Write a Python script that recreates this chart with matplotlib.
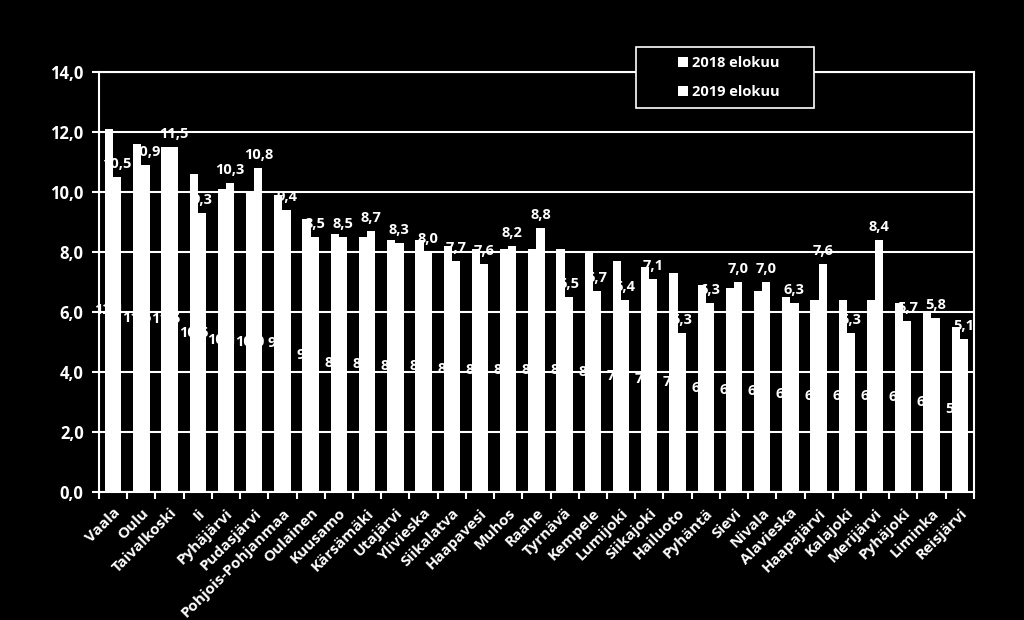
import matplotlib
matplotlib.use('Agg')
import matplotlib.pyplot as plt
import numpy as np
from matplotlib.patches import Rectangle

municipalities = ['Vaala', 'Oulu', 'Taivalkoski', 'Ii', 'Pyhäjärvi', 'Pudasjärvi',
                  'Pohjois-Pohjanmaa', 'Oulainen', 'Kuusamo', 'Kärsämäki', 'Utajärvi',
                  'Ylivieska', 'Siikalatva', 'Haapavesi', 'Muhos', 'Raahe', 'Tyrnävä',
                  'Kempele', 'Lumijoki', 'Siikajoki', 'Hailuoto', 'Pyhäntä', 'Sievi',
                  'Nivala', 'Alavieska', 'Haapajärvi', 'Kalajoki', 'Merijärvi',
                  'Pyhäjoki', 'Liminka', 'Reisjärvi']
values_2018 = [12.1, 11.6, 11.5, 10.6, 10.1, 10.0, 9.9, 9.1, 8.6, 8.5, 8.4,
               8.4, 8.2, 8.1, 8.1, 8.1, 8.1, 8.0, 7.7, 7.5, 7.3, 6.9, 6.8,
               6.7, 6.5, 6.4, 6.4, 6.4, 6.3, 6.0, 5.5]
values_2019 = [10.5, 10.9, 11.5, 9.3, 10.3, 10.8, 9.4, 8.5, 8.5, 8.7, 8.3,
               8.0, 7.7, 7.6, 8.2, 8.8, 6.5, 6.7, 6.4, 7.1, 5.3, 6.3, 7.0,
               7.0, 6.3, 7.6, 5.3, 8.4, 5.7, 5.8, 5.1]
series_labels = ['2018 elokuu', '2019 elokuu']
y_ticks = [0, 2, 4, 6, 8, 10, 12, 14]

plt.rcParams['font.family'] = ['Open Sans', 'DejaVu Sans']

def fmt(v):
    return f'{v:.1f}'.replace('.', ',')

fig = plt.figure(figsize=(10.24, 6.2), dpi=100, facecolor='black')
ax = fig.add_axes([0.0967, 0.2065, 0.8543, 0.6775], facecolor='black')

x = np.arange(len(municipalities))
w = 0.29
bars18 = ax.bar(x - w / 2, values_2018, w, color='white', linewidth=0, label=series_labels[0])
bars19 = ax.bar(x + w / 2, values_2019, w, color='white', linewidth=0, label=series_labels[1])

# data labels: 2018 in the middle of the bar, 2019 above the bar
for b, v in zip(bars18, values_2018):
    ax.text(b.get_x() + b.get_width() / 2, v / 2, fmt(v), ha='center', va='center',
            color='white', fontsize=10.5, fontweight='bold')
for b, v in zip(bars19, values_2019):
    ax.text(b.get_x() + b.get_width() / 2, v + 0.2, fmt(v), ha='center', va='bottom',
            color='white', fontsize=10.5, fontweight='bold')

ax.set_xlim(-0.5, len(municipalities) - 0.5)
ax.set_ylim(0, 14)
ax.set_yticks(y_ticks)
ax.set_yticklabels([fmt(t) for t in y_ticks])
ax.grid(True, axis='y', color='white', linewidth=1.5)
ax.set_axisbelow(True)

ax.set_xticks(x)
ax.set_xticklabels(municipalities, rotation=45, ha='right', rotation_mode='anchor')
ax.set_xticks(np.arange(-0.5, len(municipalities)), minor=True)
ax.tick_params(axis='x', which='major', length=0, pad=10, colors='white', labelsize=11)
ax.tick_params(axis='x', which='minor', length=5, width=1.5, color='white', direction='out')
ax.tick_params(axis='y', length=5, width=1.5, colors='white', labelsize=12, pad=6)
for lab in ax.get_xticklabels() + ax.get_yticklabels():
    lab.set_fontweight('bold')
for s in ax.spines.values():
    s.set_color('white')
    s.set_linewidth(1.5)

# legend box
fig.patches.append(Rectangle((0.621, 0.826), 0.174, 0.098, transform=fig.transFigure,
                             facecolor='black', edgecolor='white', linewidth=1.2, zorder=5))
leg = fig.legend(handles=[bars18, bars19], loc='center left', bbox_to_anchor=(0.649, 0.875),
                 frameon=False, labelcolor='white', handlelength=0.7, handleheight=0.7,
                 handletextpad=0.3, labelspacing=1.0, prop={'size': 10.5, 'weight': 'bold'})
leg.set_zorder(6)

fig.savefig('out.png', dpi=100, facecolor='black')
